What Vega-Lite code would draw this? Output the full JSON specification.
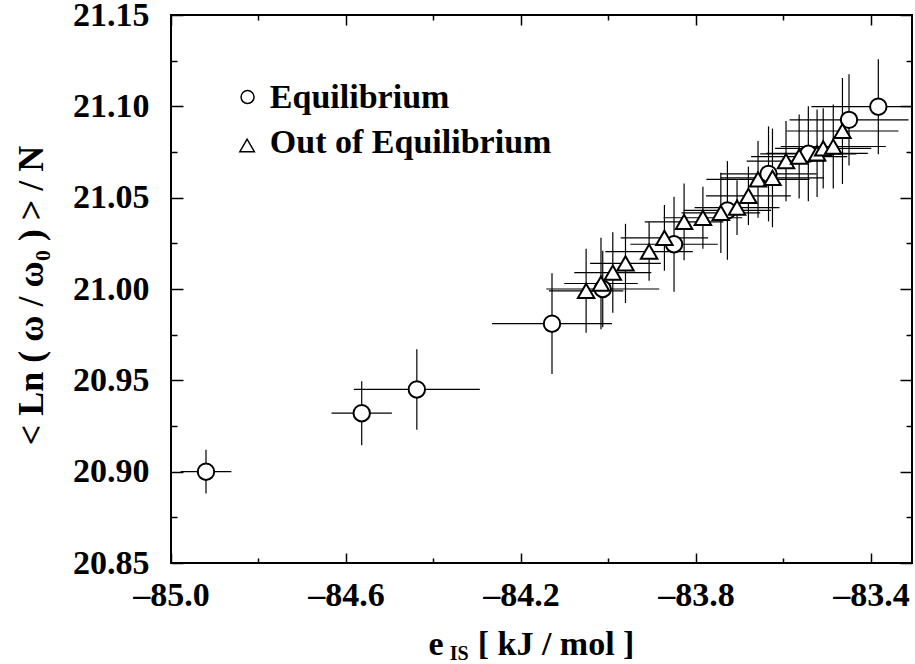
{
  "$schema": "https://vega.github.io/schema/vega-lite/v6.json",
  "width": 741,
  "height": 548,
  "autosize": {"type": "none"},
  "padding": {"left": 171, "top": 15, "right": 3, "bottom": 101},
  "background": "white",
  "config": {
    "view": {"stroke": "black", "strokeWidth": 2},
    "font": "Liberation Serif",
    "axis": {"grid": false, "domain": false, "tickColor": "black", "tickWidth": 1.5, "labelColor": "black", "titleColor": "black"}
  },
  "data": {
    "values": [
      {"series": "Equilibrium", "x": -84.920, "y": 20.900, "ex": 0.058, "ey": 0.012},
      {"series": "Equilibrium", "x": -84.564, "y": 20.932, "ex": 0.069, "ey": 0.0175},
      {"series": "Equilibrium", "x": -84.438, "y": 20.945, "ex": 0.144, "ey": 0.022},
      {"series": "Equilibrium", "x": -84.129, "y": 20.981, "ex": 0.137, "ey": 0.0276},
      {"series": "Equilibrium", "x": -84.013, "y": 21.000, "ex": 0.129, "ey": 0.021},
      {"series": "Equilibrium", "x": -83.850, "y": 21.0245, "ex": 0.10, "ey": 0.026},
      {"series": "Equilibrium", "x": -83.728, "y": 21.043, "ex": 0.10, "ey": 0.027},
      {"series": "Equilibrium", "x": -83.634, "y": 21.063, "ex": 0.11, "ey": 0.026},
      {"series": "Equilibrium", "x": -83.543, "y": 21.074, "ex": 0.11, "ey": 0.026},
      {"series": "Equilibrium", "x": -83.450, "y": 21.0926, "ex": 0.136, "ey": 0.025},
      {"series": "Equilibrium", "x": -83.383, "y": 21.0998, "ex": 0.153, "ey": 0.026},
      {"series": "Out of Equilibrium", "x": -84.051, "y": 20.999, "ex": 0.085, "ey": 0.023},
      {"series": "Out of Equilibrium", "x": -84.017, "y": 21.003, "ex": 0.084, "ey": 0.025},
      {"series": "Out of Equilibrium", "x": -83.990, "y": 21.009, "ex": 0.088, "ey": 0.022},
      {"series": "Out of Equilibrium", "x": -83.961, "y": 21.014, "ex": 0.081, "ey": 0.0217},
      {"series": "Out of Equilibrium", "x": -83.907, "y": 21.0205, "ex": 0.10, "ey": 0.016},
      {"series": "Out of Equilibrium", "x": -83.872, "y": 21.028, "ex": 0.10, "ey": 0.018},
      {"series": "Out of Equilibrium", "x": -83.827, "y": 21.0368, "ex": 0.09, "ey": 0.021},
      {"series": "Out of Equilibrium", "x": -83.784, "y": 21.039, "ex": 0.09, "ey": 0.017},
      {"series": "Out of Equilibrium", "x": -83.743, "y": 21.0417, "ex": 0.09, "ey": 0.022},
      {"series": "Out of Equilibrium", "x": -83.706, "y": 21.0446, "ex": 0.097, "ey": 0.015},
      {"series": "Out of Equilibrium", "x": -83.680, "y": 21.051, "ex": 0.097, "ey": 0.016},
      {"series": "Out of Equilibrium", "x": -83.658, "y": 21.060, "ex": 0.118, "ey": 0.021},
      {"series": "Out of Equilibrium", "x": -83.625, "y": 21.0608, "ex": 0.118, "ey": 0.027},
      {"series": "Out of Equilibrium", "x": -83.594, "y": 21.070, "ex": 0.09, "ey": 0.022},
      {"series": "Out of Equilibrium", "x": -83.564, "y": 21.0725, "ex": 0.11, "ey": 0.023},
      {"series": "Out of Equilibrium", "x": -83.523, "y": 21.0743, "ex": 0.116, "ey": 0.024},
      {"series": "Out of Equilibrium", "x": -83.509, "y": 21.077, "ex": 0.11, "ey": 0.022},
      {"series": "Out of Equilibrium", "x": -83.486, "y": 21.078, "ex": 0.12, "ey": 0.023},
      {"series": "Out of Equilibrium", "x": -83.465, "y": 21.0865, "ex": 0.128, "ey": 0.029}
    ]
  },
  "resolve": {"axis": {"x": "independent", "y": "independent"}},
  "layer": [
    {
      "mark": {"type": "errorbar", "color": "black", "thickness": 1.2, "clip": true},
      "encoding": {
        "x": {"field": "x", "type": "quantitative",
          "scale": {"domain": [-85, -83.306], "nice": false, "zero": false},
          "axis": {
            "orient": "bottom",
            "values": [-85, -84.8, -84.6, -84.4, -84.2, -84, -83.8, -83.6, -83.4],
            "labelExpr": "abs(round(datum.value*10)) % 4 == 2 ? '\u2013' + format(abs(datum.value), '.1f') : ''",
            "tickSize": {"condition": {"test": "abs(round(datum.value*10)) % 4 == 2", "value": -10}, "value": -5},
            "labelPadding": 25,
            "labelFont": "Liberation Serif", "labelFontSize": 34, "labelFontWeight": "bold",
            "labelFlush": false, "labelOverlap": false, "labelBound": false,
            "title": "e\u2002\u2002[ kJ / mol ]",
            "titleFont": "Liberation Serif", "titleFontSize": 34, "titleFontWeight": "bold",
            "titleX": 360, "titleY": 91, "titleBaseline": "alphabetic", "titleAlign": "center"
          }
        },
        "xError": {"field": "ex"},
        "y": {"field": "y", "type": "quantitative",
          "scale": {"domain": [20.85, 21.15], "nice": false, "zero": false},
          "axis": {
            "orient": "left",
            "values": [20.85, 20.875, 20.9, 20.925, 20.95, 20.975, 21.0, 21.025, 21.05, 21.075, 21.1, 21.125, 21.15],
            "format": ".2f",
            "labelExpr": "abs(round(datum.value*1000)) % 50 == 0 ? datum.label : ''",
            "tickSize": {"condition": {"test": "abs(round(datum.value*1000)) % 50 == 0", "value": -12}, "value": -6},
            "labelPadding": 34,
            "labelFont": "Liberation Serif", "labelFontSize": 34, "labelFontWeight": "bold",
            "labelFlush": false, "labelOverlap": false, "labelBound": false,
            "title": "< Ln ( ω / ω₀ ) > / N",
            "titleFont": "Liberation Serif", "titleFontSize": 36, "titleFontWeight": "bold",
            "titleX": -129, "titleY": 280, "titleBaseline": "alphabetic", "titleAlign": "center", "titleAngle": 270
          }
        }
      }
    },
    {
      "mark": {"type": "errorbar", "color": "black", "thickness": 1.2, "clip": true},
      "encoding": {
        "y": {"field": "y", "type": "quantitative",
          "axis": {
            "orient": "right",
            "values": [20.85, 20.875, 20.9, 20.925, 20.95, 20.975, 21.0, 21.025, 21.05, 21.075, 21.1, 21.125, 21.15],
            "labels": false,
            "tickSize": {"condition": {"test": "abs(round(datum.value*1000)) % 50 == 0", "value": -12}, "value": -6},
            "title": null
          }
        },
        "yError": {"field": "ey"},
        "x": {"field": "x", "type": "quantitative",
          "axis": {
            "orient": "top",
            "values": [-85, -84.8, -84.6, -84.4, -84.2, -84, -83.8, -83.6, -83.4],
            "labels": false,
            "tickSize": {"condition": {"test": "abs(round(datum.value*10)) % 4 == 2", "value": -10}, "value": -5},
            "title": null
          }
        }
      }
    },
    {
      "mark": {"type": "point", "filled": true, "fill": "white", "stroke": "black", "strokeWidth": 2, "size": 270, "opacity": 1},
      "encoding": {
        "x": {"field": "x", "type": "quantitative", "axis": null},
        "y": {"field": "y", "type": "quantitative", "axis": null},
        "shape": {"field": "series", "type": "nominal",
          "scale": {"domain": ["Equilibrium", "Out of Equilibrium"], "range": ["circle", "triangle-up"]},
          "legend": null
        }
      }
    },
    {
      "data": {"values": [{"label": "IS"}]},
      "mark": {"type": "text", "font": "Liberation Serif", "fontWeight": "bold", "fontSize": 20, "baseline": "alphabetic", "align": "center", "color": "black"},
      "encoding": {
        "text": {"field": "label"},
        "x": {"datum": -84.341, "type": "quantitative", "axis": null},
        "y": {"datum": 20.797, "type": "quantitative", "axis": null}
      }
    },
    {
      "data": {"values": [{"series": "Equilibrium"}]},
      "mark": {"type": "point", "shape": "circle", "filled": true, "fill": "white", "stroke": "black", "strokeWidth": 1.5, "size": 169, "opacity": 1},
      "encoding": {
        "x": {"datum": -84.825, "type": "quantitative", "axis": null},
        "y": {"datum": 21.1051, "type": "quantitative", "axis": null}
      }
    },
    {
      "data": {"values": [{"series": "Out of Equilibrium"}]},
      "mark": {"type": "point", "shape": "triangle-up", "filled": true, "fill": "white", "stroke": "black", "strokeWidth": 1.5, "size": 210, "opacity": 1},
      "encoding": {
        "x": {"datum": -84.826, "type": "quantitative", "axis": null},
        "y": {"datum": 21.0786, "type": "quantitative", "axis": null}
      }
    },
    {
      "data": {"values": [{"series": "Equilibrium"}]},
      "mark": {"type": "text", "font": "Liberation Serif", "fontWeight": "bold", "fontSize": 34, "baseline": "alphabetic", "align": "left", "color": "black"},
      "encoding": {
        "text": {"field": "series"},
        "x": {"datum": -84.774, "type": "quantitative", "axis": null},
        "y": {"datum": 21.0991, "type": "quantitative", "axis": null}
      }
    },
    {
      "data": {"values": [{"series": "Out of Equilibrium"}]},
      "mark": {"type": "text", "font": "Liberation Serif", "fontWeight": "bold", "fontSize": 34, "baseline": "alphabetic", "align": "left", "color": "black"},
      "encoding": {
        "text": {"field": "series"},
        "x": {"datum": -84.774, "type": "quantitative", "axis": null},
        "y": {"datum": 21.0745, "type": "quantitative", "axis": null}
      }
    }
  ]
}
